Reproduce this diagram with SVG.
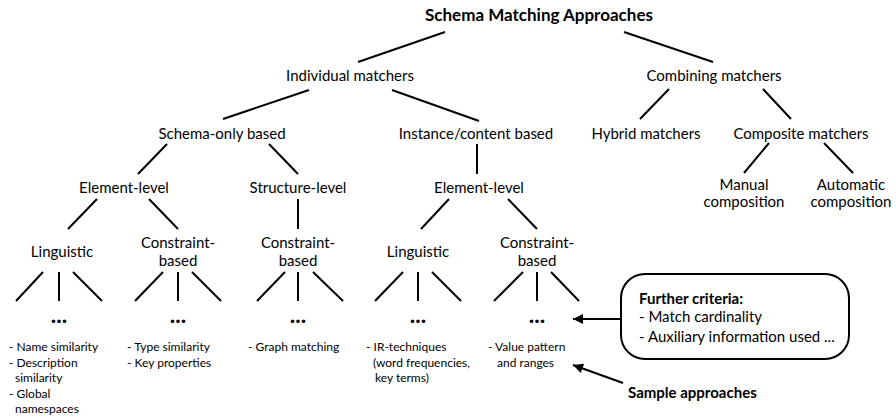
<svg xmlns="http://www.w3.org/2000/svg" width="896" height="417" viewBox="0 0 896 417">
<defs>
<style>
text{font-family:Lato,"Liberation Sans",sans-serif;fill:#000}
.n{font-size:15px;text-anchor:middle}
.t{font-size:17px;font-weight:bold;text-anchor:middle}
.s{font-size:12px}
.b{font-size:15px;font-weight:bold}
.c{font-size:15px}
.dots{font-size:23px;font-weight:bold;text-anchor:middle}
#edges line{stroke:#000;stroke-width:2}
#arrows line{stroke:#000;stroke-width:2}
</style>
<marker id="ah" viewBox="0 0 10 10" refX="10" refY="5" markerWidth="7" markerHeight="5" markerUnits="strokeWidth" orient="auto">
<path d="M0,0 L10,5 L0,10 z" fill="#000"/>
</marker>
</defs>
<rect width="896" height="417" fill="#fff"/>
<g id="edges">
<line x1="445" y1="32" x2="358" y2="62"/>
<line x1="624" y1="32" x2="713" y2="62"/>
<line x1="309" y1="90" x2="223" y2="119"/>
<line x1="392" y1="90" x2="479" y2="121"/>
<line x1="669" y1="89" x2="640" y2="119"/>
<line x1="763" y1="89" x2="791" y2="119"/>
<line x1="769" y1="143" x2="744" y2="173"/>
<line x1="824" y1="143" x2="853" y2="173"/>
<line x1="167" y1="144" x2="138" y2="174"/>
<line x1="269" y1="144" x2="298" y2="174"/>
<line x1="477" y1="144" x2="477" y2="174"/>
<line x1="97" y1="199" x2="68" y2="229"/>
<line x1="149" y1="199" x2="178" y2="229"/>
<line x1="298" y1="199" x2="298" y2="229"/>
<line x1="449" y1="199" x2="421" y2="229"/>
<line x1="508" y1="199" x2="537" y2="229"/>
<line x1="43" y1="272" x2="16" y2="301"/>
<line x1="59" y1="272" x2="59" y2="301"/>
<line x1="73" y1="272" x2="102" y2="301"/>
<line x1="163" y1="272" x2="135" y2="301"/>
<line x1="178" y1="272" x2="178" y2="301"/>
<line x1="192" y1="272" x2="221" y2="301"/>
<line x1="285" y1="272" x2="257" y2="301"/>
<line x1="298" y1="272" x2="298" y2="301"/>
<line x1="313" y1="272" x2="343" y2="301"/>
<line x1="403" y1="272" x2="375" y2="301"/>
<line x1="418" y1="272" x2="418" y2="301"/>
<line x1="432" y1="272" x2="461" y2="301"/>
<line x1="523" y1="272" x2="494" y2="301"/>
<line x1="537" y1="272" x2="537" y2="301"/>
<line x1="551" y1="272" x2="579" y2="301"/>
</g>
<g id="arrows">
<line x1="622" y1="319" x2="573" y2="319" marker-end="url(#ah)"/>
<line x1="623" y1="383" x2="573" y2="365" marker-end="url(#ah)"/>
</g>
<g id="root"><text class="t" x="539" y="21">Schema Matching Approaches</text></g>
<g id="individual"><text class="n" x="350" y="81">Individual matchers</text></g>
<g id="combining"><text class="n" x="714" y="81">Combining matchers</text></g>
<g id="schema-only"><text class="n" x="222" y="139">Schema-only based</text></g>
<g id="instance"><text class="n" x="476" y="139">Instance/content based</text></g>
<g id="hybrid"><text class="n" x="646" y="139">Hybrid matchers</text></g>
<g id="composite"><text class="n" x="801" y="139">Composite matchers</text></g>
<g id="manual"><text class="n" x="744" y="190">Manual</text><text class="n" x="744" y="207">composition</text></g>
<g id="automatic"><text class="n" x="851" y="190">Automatic</text><text class="n" x="851" y="207">composition</text></g>
<g id="element-left"><text class="n" x="124" y="193">Element-level</text></g>
<g id="structure"><text class="n" x="298" y="193">Structure-level</text></g>
<g id="element-right"><text class="n" x="479" y="193">Element-level</text></g>
<g id="ling-left"><text class="n" x="62" y="257">Linguistic</text></g>
<g id="cons-left"><text class="n" x="178" y="248">Constraint-</text><text class="n" x="178" y="266">based</text></g>
<g id="cons-struct"><text class="n" x="298" y="248">Constraint-</text><text class="n" x="298" y="266">based</text></g>
<g id="ling-right"><text class="n" x="418" y="257">Linguistic</text></g>
<g id="cons-right"><text class="n" x="537" y="248">Constraint-</text><text class="n" x="537" y="266">based</text></g>
<g id="dots1"><text class="dots" x="59" y="323">...</text></g>
<g id="dots2"><text class="dots" x="178" y="323">...</text></g>
<g id="dots3"><text class="dots" x="298" y="323">...</text></g>
<g id="dots4"><text class="dots" x="418" y="323">...</text></g>
<g id="dots5"><text class="dots" x="537" y="323">...</text></g>
<g id="sample1"><text class="s" x="9" y="351">- Name similarity</text><text class="s" x="9" y="366.5">- Description</text><text class="s" x="15" y="382">similarity</text><text class="s" x="9" y="397.5">- Global</text><text class="s" x="15" y="413">namespaces</text></g>
<g id="sample2"><text class="s" x="127" y="351">- Type similarity</text><text class="s" x="127" y="366.5">- Key properties</text></g>
<g id="sample3"><text class="s" x="248" y="351">- Graph matching</text></g>
<g id="sample4"><text class="s" x="366" y="351">- IR-techniques</text><text class="s" x="373" y="366.5">(word frequencies,</text><text class="s" x="375" y="382">key terms)</text></g>
<g id="sample5"><text class="s" x="488" y="351">- Value pattern</text><text class="s" x="497" y="366.5">and ranges</text></g>
<g id="criteria"><rect x="621" y="274" width="228" height="85" rx="24" ry="24" fill="#fff" stroke="#000" stroke-width="2"/>
<text class="b" x="639" y="304">Further criteria:</text>
<text class="c" x="639" y="322">- Match cardinality</text>
<text class="c" x="639" y="342">- Auxiliary information used ...</text></g>
<g id="sample-label"><text class="b" x="628" y="398">Sample approaches</text></g>
</svg>
